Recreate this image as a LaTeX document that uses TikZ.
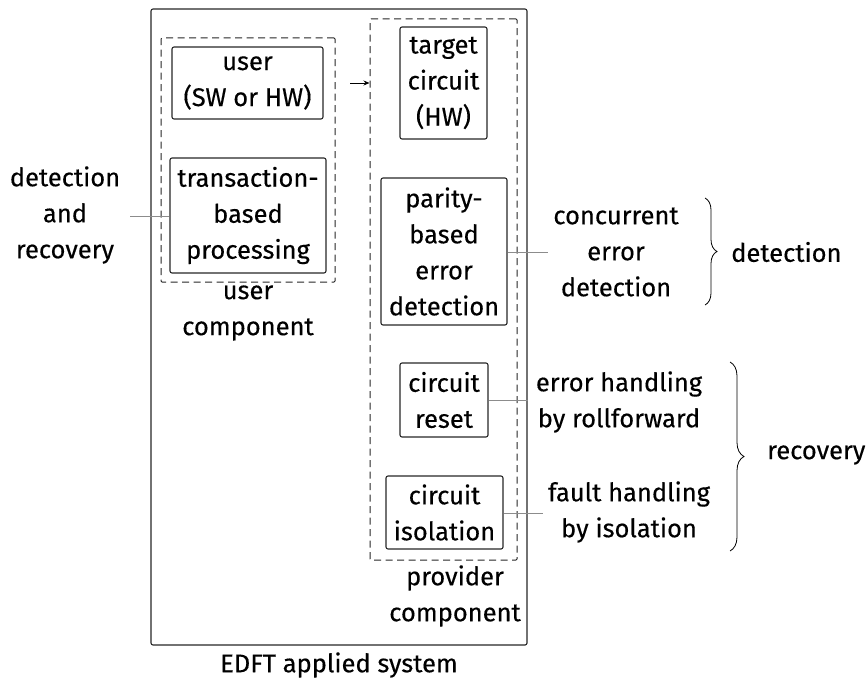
\documentclass[tikz,border=0pt]{standalone}
\usepackage{fontspec}
\setmainfont{Fira Sans}[FakeBold=0.35]
\usetikzlibrary{decorations.pathreplacing,arrows.meta}
\begin{document}
\begin{tikzpicture}[x=1pt,y=-1pt,
  every node/.style={font=\fontsize{25.5}{36}\selectfont, align=center, inner sep=0pt},
  box/.style={draw=black!85, line width=1.1pt, rounded corners=2pt},
  grp/.style={draw=black!85, line width=1pt, dash pattern=on 7pt off 4.5pt},
  conn/.style={draw=black!45, line width=0.9pt},
  brc/.style={draw=black, line width=0.8pt, decorate, decoration={brace, amplitude=#1}}
]
\useasboundingbox (0,0) rectangle (867,685);
% system
\node[box, minimum width=376pt, minimum height=636pt] (sys) at (339,327) {};
\node (syslbl) at (339,665) {EDFT applied system};
% user component
\node[grp, minimum width=174pt, minimum height=244pt, rounded corners=1pt] (ucomp) at (248,160) {};
\node (ucomplbl) at (248,313) {user\\component};
\node[box, minimum width=151pt, minimum height=72pt] (user) at (247.5,83) {user\\(SW or HW)};
\node[box, minimum width=156pt, minimum height=115pt] (trans) at (248,215.5) {transaction-\\based\\processing};
% provider component
\node[grp, minimum width=147pt, minimum height=541pt, rounded corners=1pt] (prov) at (443.5,289.5) {};
\node (provlbl) at (455,596) {provider\\component};
\node[box, minimum width=87pt, minimum height=112pt] (target) at (443.5,83) {target\\circuit\\(HW)};
\node[box, minimum width=126pt, minimum height=147pt] (parity) at (444,251.5) {parity-\\based\\error\\detection};
\node[box, minimum width=88pt, minimum height=74pt] (reset) at (444,400) {circuit\\reset};
\node[box, minimum width=117pt, minimum height=73pt] (iso) at (444.5,512.5) {circuit\\isolation};
% arrow
\coordinate (a1) at (350,83);
\draw[line width=0.9pt, -{Stealth[length=6pt,width=5pt]}] (a1) -- (a1 -| prov.west);
% left label
\node (dr) at (65,215) {detection\\and\\recovery};
\coordinate (drc) at (130,216);
\draw[conn] (trans.west |- drc) -- (drc);
% right labels
\node (ced) at (616,252) {concurrent\\error\\detection};
\coordinate (cedc) at (548,252);
\draw[conn] (parity.east |- cedc) -- (cedc);
\node (ehr) at (619,402) {error handling\\by rollforward};
\draw[conn] (reset.east) -- (reset.east -| sys.east);
\node (fhi) at (629,512) {fault handling\\by isolation};
\coordinate (fhic) at (543,513);
\draw[conn] (iso.east |- fhic) -- (fhic);
% braces
\coordinate (b1t) at (705,198);
\coordinate (b1b) at (705,305);
\draw[brc=12pt] (b1t) -- (b1b);
\node[anchor=west] (det) at (731,252) {detection};
\coordinate (b2t) at (730,362);
\coordinate (b2b) at (730,551);
\draw[brc=14pt] (b2t) -- (b2b);
\node[anchor=west] (rec) at (767,455) {recovery};
\end{tikzpicture}
\end{document}
